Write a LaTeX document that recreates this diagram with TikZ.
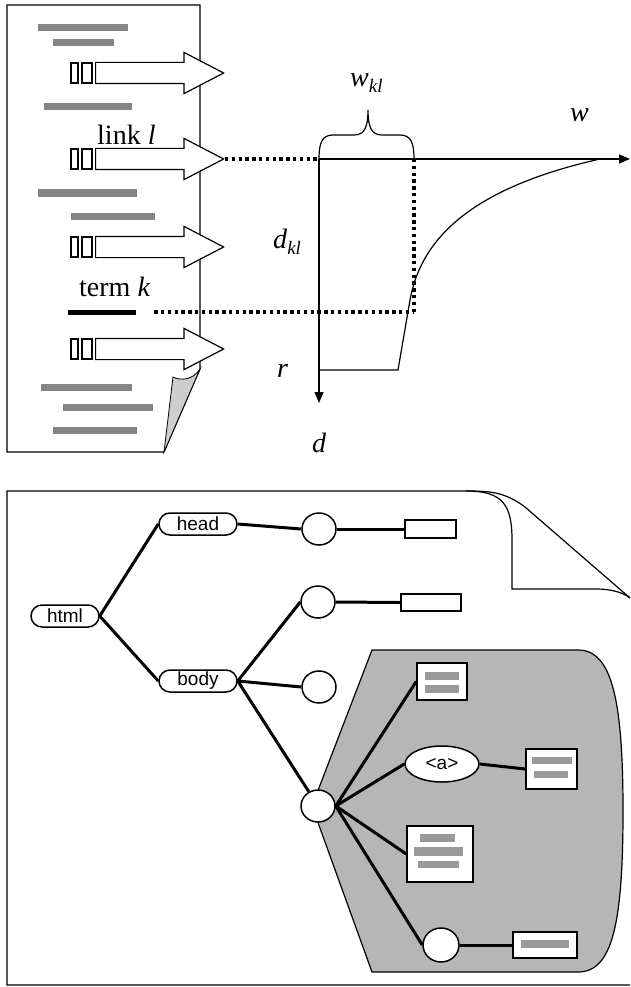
\documentclass[tikz,border=0pt]{standalone}
\usepackage{fontspec}
\setmainfont{Liberation Serif}
\newfontfamily\tagsans{Liberation Sans}
\usepackage{tikz}
\usepackage{xcolor}
\usetikzlibrary{shapes.geometric, shapes.arrows, shapes.misc, arrows.meta, calc}
\definecolor{clrText}{HTML}{858585}
\definecolor{clrFold}{HTML}{CDCDCD}
\definecolor{clrRegion}{HTML}{B6B6B6}
\definecolor{clrLeafBar}{HTML}{9A9A9A}
\newcommand{\idx}[1]{\raisebox{-6pt}{\fontsize{19}{19}\selectfont\itshape #1}}

\begin{document}
\begin{tikzpicture}[x=1pt, y=-1pt,
    page/.style={draw, line width=1.2pt},
    linkarrow/.style={single arrow, draw, fill=white, line width=1.2pt, minimum height=128pt, inner xsep=0pt, inner ysep=10pt, single arrow head extend=10pt, single arrow tip angle=55, anchor=tail},
    tagbox/.style={rectangle, draw, line width=1.2pt, minimum height=20pt, inner sep=0pt},
    lbl/.style={font=\fontsize{28}{30}\selectfont, inner sep=0pt, anchor=base west},
    dotline/.style={line width=3.2pt, dash pattern=on 3.4pt off 3.4pt},
    axis/.style={line width=1.3pt, -{Triangle[length=11pt, width=9pt]}},
    tag/.style={rounded rectangle, draw, fill=white, line width=1.5pt, minimum height=22pt, inner sep=0pt, font=\tagsans\fontsize{19}{19}\selectfont},
    elem/.style={ellipse, draw, fill=white, line width=1.5pt, minimum width=34pt, minimum height=32pt, inner sep=0pt},
    leaf/.style={rectangle, draw, fill=white, line width=1.5pt, inner sep=0pt},
    treeline/.style={line width=3pt},
    leafbar/.style={fill=clrLeafBar},
]
\useasboundingbox (0,0) rectangle (630,987);

% document with links and terms
\draw[page] (164,452) -- (7,452) -- (7,5) -- (200,5) -- (200,369) -- (164,452);
\filldraw[fill=clrFold, line width=0.8pt] (164,452) -- (173,377) .. controls (181,381) and (193,380) .. (200,369) -- cycle;
\foreach \xa/\xb/\y in {38/128/28, 53/114/43, 44/132/107, 38/137/193, 71/155/216, 41/132/387, 63/153/407, 53/137/430}
  \fill[clrText] (\xa,\y-3.5) rectangle (\xb,\y+3.5);

\foreach \y [count=\i] in {73,159,247,349} {
  \node[linkarrow] (arr\i) at (95,\y) {};
  \node[tagbox, minimum width=7pt] (tagA\i) at (74.5,\y) {};
  \node[tagbox, minimum width=10pt] (tagB\i) at (87,\y) {};
}
\node[fill=black, minimum width=68pt, minimum height=5pt, inner sep=0pt] (termbar) at (102,312) {};
\node[lbl] (linklbl) at (97,145) {link \textit{l}};
\node[lbl] (termlbl) at (79,296) {term \textit{k}};

% weight over distance
\coordinate (o) at (319,159);
\coordinate (wend) at (630,159);
\coordinate (dend) at (319,403);
\coordinate (wkl) at (414,159);
\coordinate (kl) at (414,312);
\coordinate (r) at (319,370);
\draw[dotline] (arr2.tip) -- (o);
\draw[dotline] ([xshift=18pt]termbar.east) -- (kl);
\draw[dotline] (wkl) -- (kl);
\draw[axis] (o) -- (wend);
\draw[axis] (o) -- (dend);
\draw[line width=1.2pt] (r) -- (398,370) -- (410,300) .. controls (420,245) and (462,190) .. (600,159);
\draw[line width=1.2pt] (o) .. controls (319,143) and (322,135) .. (333,135) -- (354,135) .. controls (364,135) and (368,128) .. (368,110) .. controls (368,128) and (372,135) .. (382,135) -- (400,135) .. controls (411,135) and (414,143) .. (wkl);

\node[lbl] (wkllbl) at (350,87) {\textit{w}\idx{kl}};
\node[lbl] (wlbl) at (570,122) {\textit{w}};
\node[lbl] (dkllbl) at (273,248) {\textit{d}\idx{kl}};
\node[lbl] (rlbl) at (277,377) {\textit{r}};
\node[lbl] (dlbl) at (312,452) {\textit{d}};

% html page with dog-ear
\draw[page] (630,985) -- (7,985) -- (7,491) -- (466,491) .. controls (490,491) and (505,492) .. (525,507) -- (630,598);
\draw[line width=1.2pt] (466,491) .. controls (503,491) and (512,505) .. (512,540) -- (512,589) -- (596,589) .. controls (612,589) and (624,593) .. (630,598);
\filldraw[fill=clrRegion, line width=1.2pt] (372,650) -- (578,650) .. controls (612,650) and (623,700) .. (623,811) .. controls (623,925) and (612,972) .. (578,972) -- (372,972) -- (312,806) -- cycle;

% DOM tree
\node[tag, minimum width=68pt] (html) at (65,616) {html};
\node[tag, minimum width=78pt] (head) at (198,524) {head};
\node[tag, minimum width=78pt] (body) at (198,681) {body};
\node[elem] (c1) at (319,529) {};
\node[elem] (c2) at (318,602) {};
\node[elem] (c3) at (319,687) {};
\node[elem] (c4) at (318,806) {};
\node[elem, minimum width=36pt, minimum height=34pt] (c5) at (441,945) {};
\node[leaf, minimum width=51pt, minimum height=18pt] (r1) at (430.5,529) {};
\node[leaf, minimum width=60pt, minimum height=17pt] (r2) at (431,602.5) {};
\node[leaf, minimum width=50pt, minimum height=37pt] (rA) at (442,681.5) {};
\node[elem, minimum width=74pt, minimum height=36pt, font=\tagsans\fontsize{19}{19}\selectfont] (a) at (442,764) {<a>};
\node[leaf, minimum width=51pt, minimum height=40pt] (rB) at (551.5,769) {};
\node[leaf, minimum width=66pt, minimum height=56pt] (rC) at (440,854) {};
\node[leaf, minimum width=64pt, minimum height=26pt] (rD) at (545,945) {};

\fill[leafbar] ($(rA)+(-17,-10)$) rectangle ($(rA)+(17,-2)$);
\fill[leafbar] ($(rA)+(-17,3)$) rectangle ($(rA)+(17,11)$);
\fill[leafbar] ($(rB)+(-20,-12)$) rectangle ($(rB)+(20,-5)$);
\fill[leafbar] ($(rB)+(-18,2)$) rectangle ($(rB)+(16,9)$);
\fill[leafbar] ($(rC)+(-20,-20)$) rectangle ($(rC)+(15,-12)$);
\fill[leafbar] ($(rC)+(-26,-7)$) rectangle ($(rC)+(23,2)$);
\fill[leafbar] ($(rC)+(-22,7)$) rectangle ($(rC)+(19,14)$);
\fill[leafbar] ($(rD)+(-24,-5)$) rectangle ($(rD)+(24,3)$);

\draw[treeline] (html.east) -- (head.west);
\draw[treeline] (html.east) -- (body.west);
\draw[treeline] (head.east) -- (c1.west);
\draw[treeline] (c1.east) -- (r1.west);
\draw[treeline] (body.east) -- (c2.west);
\draw[treeline] (c2.east) -- (r2.west);
\draw[treeline] (body.east) -- (c3.west);
\draw[treeline] (body.east) -- (c4);
\draw[treeline] (c4.east) -- (rA.west);
\draw[treeline] (c4.east) -- (a.west);
\draw[treeline] (a.east) -- (rB.west);
\draw[treeline] (c4.east) -- (rC.west);
\draw[treeline] (c4.east) -- (c5.west);
\draw[treeline] (c5.east) -- (rD.west);

\end{tikzpicture}
\end{document}
